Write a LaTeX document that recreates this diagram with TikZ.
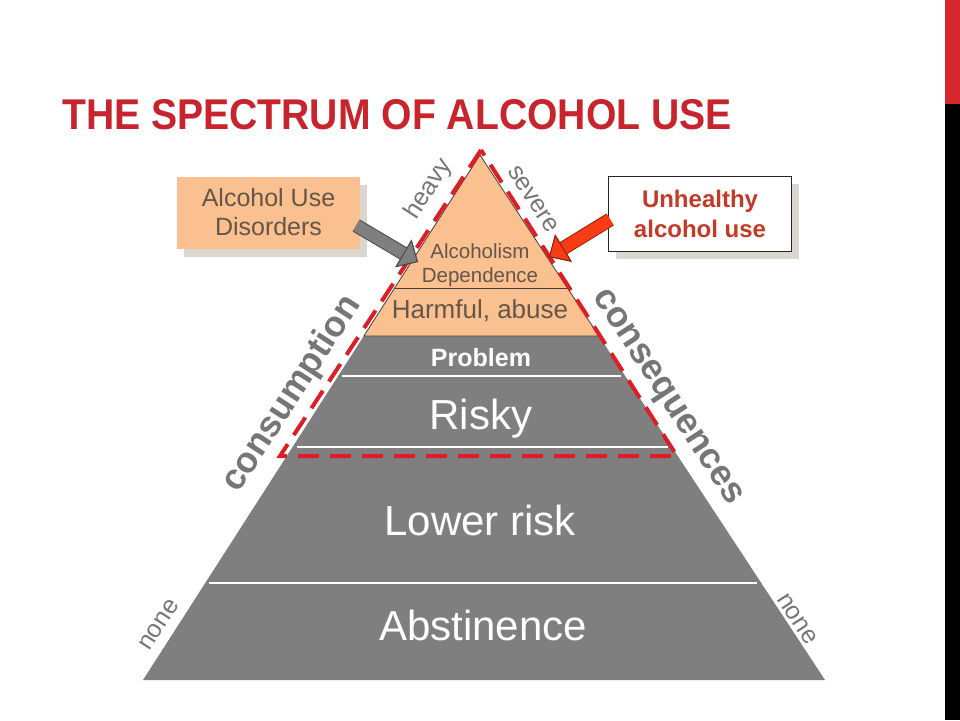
\documentclass[tikz,border=0pt]{standalone}
\usepackage{fontspec}
\setmainfont{Liberation Sans}
\usetikzlibrary{positioning, arrows.meta, calc, shadows}

\definecolor{peach}{RGB}{250,192,144}
\definecolor{pyrgray}{RGB}{127,127,127}
\definecolor{labgray}{RGB}{118,118,118}
\definecolor{peachtext}{RGB}{100,86,72}
\definecolor{titlered}{RGB}{200,36,46}
\definecolor{dashred}{RGB}{222,30,36}
\definecolor{brick}{RGB}{196,58,38}
\definecolor{boltred}{RGB}{250,60,20}
\definecolor{shadowgray}{RGB}{218,216,206}
\definecolor{barred}{RGB}{214,40,42}

\newcommand{\pxfont}[2]{\fontsize{#1pt}{#2pt}\selectfont}

\begin{document}
\begin{tikzpicture}[
        x=1pt, y=-1pt,
        layer/.style={font=\pxfont{42}{48}, text=white, anchor=base},
        tiptext/.style={font=\pxfont{20.5}{24}, text=peachtext, anchor=base},
        side/.style={font=\bfseries\pxfont{36}{40}, text=labgray},
        edgelabel/.style={font=\pxfont{25}{29}, text=labgray},
        callout/.style={minimum width=183pt, minimum height=72pt, align=center, font=\pxfont{25}{29},
            drop shadow={shadow xshift=7pt, shadow yshift=-8pt, fill=shadowgray, opacity=1}},
        bolt/.style={draw=#1, line width=12pt,
            -{Triangle[length=17pt, width=32pt, line width=1pt, color=#1!60!black, fill=#1]},
            preaction={draw=#1!60!black, line width=14pt, -{Triangle[length=17pt, width=32pt, line width=1pt]}}},
        zone/.style={draw=dashred, line width=4pt, dash pattern=on 21pt off 11pt}
    ]

    \useasboundingbox (0,0) rectangle (960,720);
    \fill[white] (0,0) rectangle (960,720);
    \fill[barred] (945,0) rectangle (960,104);
    \fill[black] (945,104) rectangle (960,720);

    \node[anchor=base west, text=titlered, font=\bfseries\pxfont{43}{48}, xscale=0.91, inner sep=0] (title) at (62,129) {THE SPECTRUM OF ALCOHOL USE};

    % pyramid
    \coordinate (apex) at (480,155);
    \coordinate (bl) at (143,680);
    \coordinate (br) at (825,680);

    \fill[pyrgray] ($(apex)!0.3448!(bl)$) -- (bl) -- (br) -- ($(apex)!0.3448!(br)$) -- cycle;
    \filldraw[fill=peach, draw=black!75, line width=0.8pt] (apex) -- ($(apex)!0.3448!(bl)$) -- ($(apex)!0.3448!(br)$) -- cycle;
    \draw[black!75, line width=0.8pt] ($(apex)!0.2533!(bl)$) -- ($(apex)!0.2533!(br)$);
    \foreach \t in {0.4210, 0.5562, 0.8152}
        \draw[white, line width=1.5pt] ($(apex)!\t!(bl)+(4,0)$) -- ($(apex)!\t!(br)+(-4,0)$);

    % unhealthy zone
    \coordinate (zoneTop) at (481,150);
    \coordinate (zoneLeft) at (280,456);
    \coordinate (zoneRight) at (677,456);
    \draw[zone] (zoneTop) -- (zoneLeft) -- (zoneRight) -- cycle;

    \node[tiptext] (alc) at (480,258) {Alcoholism};
    \node[tiptext] (dep) at ([yshift=-24pt]alc.base) {Dependence};
    \node[font=\pxfont{26}{30}, text=peachtext, anchor=base] (harm) at (480,318) {Harmful, abuse};
    \node[font=\bfseries\pxfont{25}{30}, text=white, anchor=base] (prob) at (481,366) {Problem};
    \node[layer] (risky) at (481,429) {Risky};
    \node[layer] (lower) at (480,535) {Lower risk};
    \node[layer] (abst) at (483,640) {Abstinence};

    \node[side, rotate=57] (cons) at (292,394) {consumption};
    \node[side, rotate=-57] (conq) at (666,398) {consequences};
    \node[edgelabel, rotate=57] (heavy) at (429,189) {heavy};
    \node[edgelabel, rotate=-57] (severe) at (533,199) {severe};
    \node[edgelabel, rotate=57] (noneL) at (159,625) {none};
    \node[edgelabel, rotate=-57] (noneR) at (797,619) {none};

    % callouts
    \node[callout, fill=peach, text=peachtext] (aud) at (268.5,212.5) {Alcohol Use\\Disorders};
    \node[callout, fill=white, draw=black!85, line width=0.8pt, minimum height=75pt, text=brick,
        font=\bfseries\pxfont{24}{30}] (unh) at (700,213.5) {Unhealthy\\alcohol use};

    \coordinate (gTip) at (418,262);
    \coordinate (rTip) at (549,257);
    \draw[bolt=pyrgray] ([shift={(-4,13)}]aud.east) -- (gTip);
    \draw[bolt=boltred] ([shift={(2,6)}]unh.west) -- (rTip);

\end{tikzpicture}
\end{document}
